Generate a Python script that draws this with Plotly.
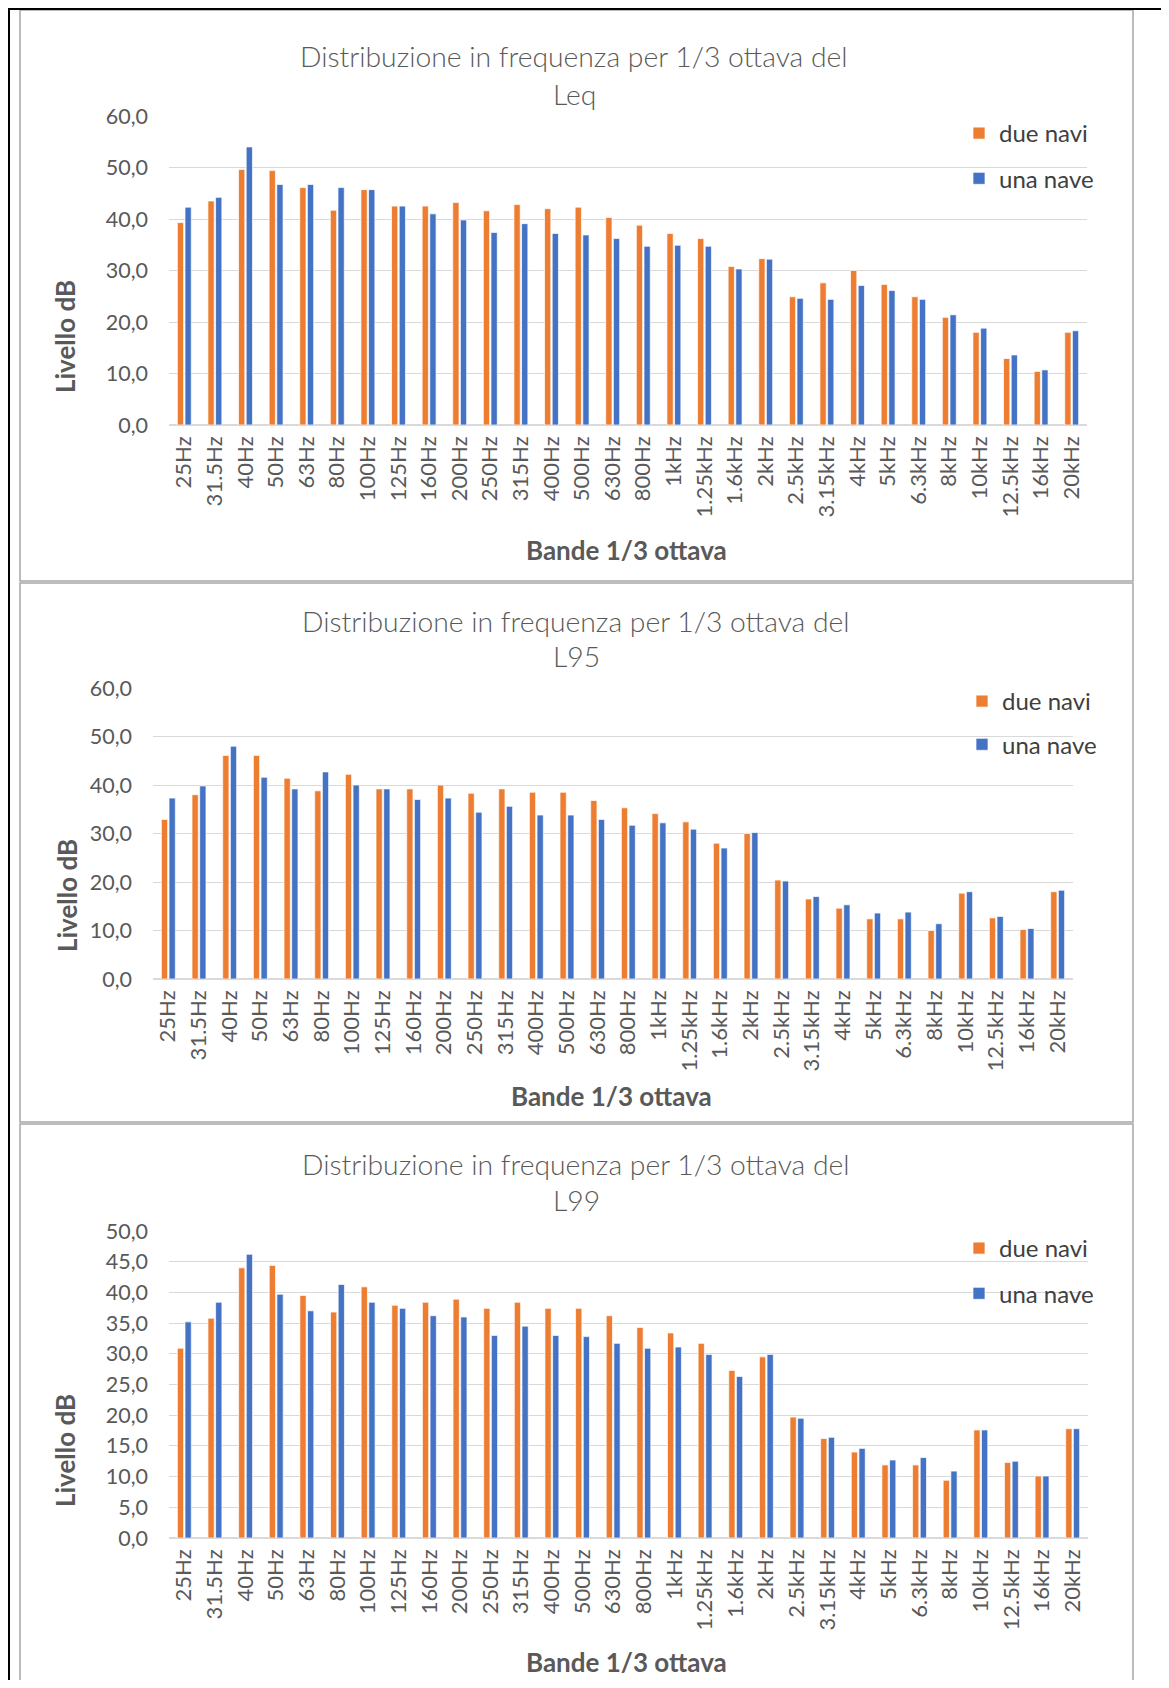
import plotly.graph_objects as go

# bande di terzo d'ottava
bande = [
    '25Hz', '31.5Hz', '40Hz', '50Hz', '63Hz', '80Hz', '100Hz', '125Hz', '160Hz', '200Hz',
    '250Hz', '315Hz', '400Hz', '500Hz', '630Hz', '800Hz', '1kHz', '1.25kHz', '1.6kHz', '2kHz',
    '2.5kHz', '3.15kHz', '4kHz', '5kHz', '6.3kHz', '8kHz', '10kHz', '12.5kHz', '16kHz', '20kHz',
]

leq_due = [39.3, 43.5, 49.6, 49.4, 46.1, 41.7, 45.7, 42.5, 42.5, 43.2,
           41.6, 42.8, 42.0, 42.3, 40.3, 38.8, 37.2, 36.2, 30.8, 32.3,
           24.9, 27.6, 30.0, 27.3, 24.9, 20.9, 18.0, 12.9, 10.4, 18.0]
leq_una = [42.3, 44.2, 54.0, 46.7, 46.7, 46.1, 45.7, 42.5, 41.0, 39.8,
           37.4, 39.1, 37.2, 36.9, 36.2, 34.7, 34.9, 34.7, 30.3, 32.2,
           24.6, 24.4, 27.1, 26.1, 24.4, 21.4, 18.8, 13.6, 10.7, 18.3]

l95_due = [32.9, 38.0, 46.1, 46.1, 41.4, 38.8, 42.2, 39.2, 39.2, 40.0,
           38.3, 39.2, 38.5, 38.5, 36.8, 35.3, 34.1, 32.4, 28.0, 30.0,
           20.4, 16.5, 14.6, 12.4, 12.4, 10.0, 17.7, 12.6, 10.2, 18.0]
l95_una = [37.3, 39.8, 48.0, 41.6, 39.2, 42.7, 40.0, 39.2, 37.0, 37.3,
           34.4, 35.6, 33.8, 33.8, 32.9, 31.7, 32.2, 30.9, 27.0, 30.2,
           20.2, 17.0, 15.3, 13.6, 13.8, 11.4, 18.0, 12.9, 10.4, 18.3]

l99_due = [30.9, 35.8, 44.0, 44.4, 39.5, 36.8, 40.9, 37.9, 38.4, 38.9,
           37.4, 38.4, 37.4, 37.4, 36.2, 34.3, 33.4, 31.7, 27.3, 29.5,
           19.7, 16.2, 14.0, 11.9, 11.9, 9.4, 17.6, 12.3, 10.1, 17.8]
l99_una = [35.2, 38.4, 46.2, 39.7, 37.0, 41.3, 38.4, 37.4, 36.2, 36.0,
           33.0, 34.5, 33.0, 32.8, 31.7, 30.9, 31.1, 29.9, 26.3, 29.9,
           19.5, 16.4, 14.6, 12.7, 13.1, 10.9, 17.6, 12.5, 10.1, 17.8]

ARANCIO = '#ED7D31'
BLU = '#4472C4'
GRIGIO = '#595959'
FONT = 'Lato'

# the page body has an 8px margin, so the figure is a bit smaller than the window
W, H = 1153, 1672
OFF = 8


def fx(x):
    return (x - OFF) / W


def fy(y):
    return 1 - (y - OFF) / H


# one entry per chart, positions in page pixels
grafici = [
    dict(nome='Leq', due=leq_due, una=leq_una, ymax=60, dtick=10,
         area=(169, 1087, 116, 425), titolo_y=(56, 94), titolo_x=574,
         asse_y=(65, 337), asse_x=(626, 550), leg=(959, 111), gap=11),
    dict(nome='L95', due=l95_due, una=l95_una, ymax=60, dtick=10,
         area=(153, 1073, 688, 979), titolo_y=(621, 656), titolo_x=576,
         asse_y=(67, 896), asse_x=(611, 1096), leg=(962, 679), gap=9),
    dict(nome='L99', due=l99_due, una=l99_una, ymax=50, dtick=5,
         area=(169, 1088, 1231, 1538), titolo_y=(1164, 1200), titolo_x=576,
         asse_y=(65, 1451), asse_x=(626, 1662), leg=(959, 1226), gap=11),
]

fig = go.Figure()
layout = {}
annotations = []

for i, g in enumerate(grafici):
    n = '' if i == 0 else str(i + 1)
    leg = 'legend' + n
    x0, x1, y0, y1 = g['area']

    fig.add_trace(go.Bar(
        x=bande, y=g['due'], name='due navi',
        marker=dict(color=ARANCIO, line=dict(color='rgba(255,255,255,0.7)', width=1)),
        xaxis='x' + n, yaxis='y' + n, legend=leg, legendgroup='due' + n,
    ))
    fig.add_trace(go.Bar(
        x=bande, y=g['una'], name='una nave',
        marker=dict(color=BLU, line=dict(color='rgba(255,255,255,0.7)', width=1)),
        xaxis='x' + n, yaxis='y' + n, legend=leg, legendgroup='una' + n,
    ))

    layout['xaxis' + n] = dict(
        domain=[fx(x0), fx(x1)], anchor='y' + n, automargin=False,
        type='category', tickangle=-90, showgrid=False, showline=False,
        ticklabelstandoff=6,
        tickfont=dict(family=FONT, size=22, color=GRIGIO),
    )
    layout['yaxis' + n] = dict(
        domain=[fy(y1), fy(y0)], anchor='x' + n, automargin=False,
        range=[0, g['ymax']], dtick=g['dtick'], tickformat='.1f',
        showgrid=True, gridcolor='#d9d9d9', gridwidth=1,
        zeroline=True, zerolinecolor='#d9d9d9', zerolinewidth=1.5,
        showline=False, ticklabelstandoff=20,
        tickfont=dict(family=FONT, size=21.5, color=GRIGIO),
    )
    layout[leg] = dict(
        x=fx(g['leg'][0]), y=fy(g['leg'][1]), xanchor='left', yanchor='top',
        bgcolor='rgba(0,0,0,0)', tracegroupgap=g['gap'],
        font=dict(family=FONT, size=24, color='#404040'),
    )

    righe = ['Distribuzione in frequenza per 1/3 ottava del', g['nome']]
    for testo, yy in zip(righe, g['titolo_y']):
        annotations.append(dict(
            text=testo, x=fx(g['titolo_x']), y=fy(yy), xref='paper', yref='paper',
            xanchor='center', yanchor='middle', showarrow=False,
            font=dict(family=FONT, size=28.3, color=GRIGIO, weight=300),
        ))
    annotations.append(dict(
        text='<b>Livello dB</b>', x=fx(g['asse_y'][0]), y=fy(g['asse_y'][1]),
        xref='paper', yref='paper', textangle=-90, showarrow=False,
        xanchor='center', yanchor='middle',
        font=dict(family=FONT, size=26, color=GRIGIO),
    ))
    annotations.append(dict(
        text='<b>Bande 1/3 ottava</b>', x=fx(g['asse_x'][0]), y=fy(g['asse_x'][1]),
        xref='paper', yref='paper', showarrow=False,
        xanchor='center', yanchor='middle',
        font=dict(family=FONT, size=26, color=GRIGIO),
    ))

# chart frames and the outer black lines
shapes = []
for top, bottom in [(10, 581), (583, 1122), (1124, 1700)]:
    shapes.append(dict(
        type='rect', xref='paper', yref='paper',
        x0=fx(20), x1=fx(1133), y0=fy(bottom), y1=fy(top),
        line=dict(color='#a6a6a6', width=1.5), layer='below',
    ))
shapes.append(dict(type='line', xref='paper', yref='paper',
                   x0=0, x1=1, y0=fy(9), y1=fy(9), line=dict(color='black', width=2)))
shapes.append(dict(type='line', xref='paper', yref='paper',
                   x0=fx(9), x1=fx(9), y0=0, y1=fy(9), line=dict(color='black', width=2)))

fig.update_layout(
    width=W, height=H, margin=dict(l=0, r=0, t=0, b=0),
    paper_bgcolor='white', plot_bgcolor='white',
    barmode='group', bargap=0.5, bargroupgap=0.18,
    separators=',.',
    annotations=annotations, shapes=shapes,
    **layout,
)

fig.write_html('out.html')
